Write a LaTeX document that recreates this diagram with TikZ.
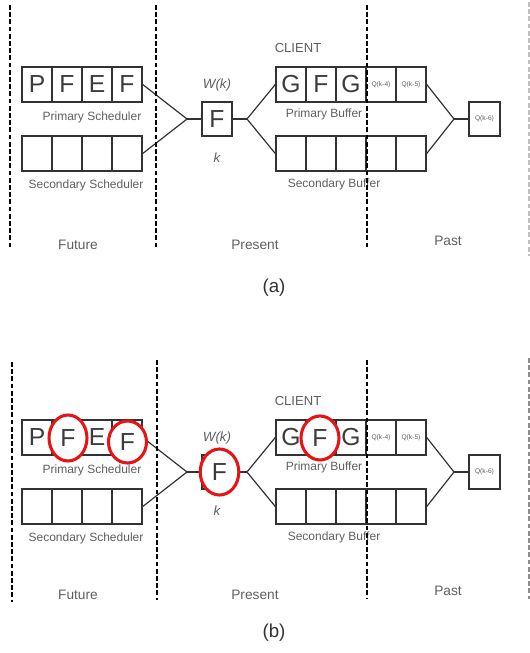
\documentclass[tikz,border=0pt]{standalone}
\usepackage{fontspec}
\setmainfont{Liberation Sans}
\usetikzlibrary{shapes.geometric}
\definecolor{linec}{RGB}{50,50,50}
\definecolor{labc}{RGB}{95,95,95}
\definecolor{bigc}{RGB}{60,60,60}
\definecolor{ringred}{RGB}{230,20,20}
\tikzset{
  cell/.style={draw=linec, line width=1.1pt, minimum width=22.5pt, minimum height=26pt, inner sep=0pt, text=bigc, font=\fontsize{18.5}{18.5}\selectfont},
  qcell/.style={cell, font=\fontsize{5}{5}\selectfont, text=labc},
  lab/.style={text=labc, inner sep=0pt, font=\fontsize{9}{10}\selectfont},
  zone/.style={text=labc, inner sep=0pt, font=\fontsize{10.3}{11}\selectfont},
  conn/.style={draw=linec, line width=0.9pt},
  sepline/.style={draw=black, line width=1.5pt, dash pattern=on 3.6pt off 1.8pt},
  faint/.style={draw=black!25, line width=0.8pt, dash pattern=on 3.6pt off 1.8pt},
  ring/.style={ellipse, draw=ringred, line width=2.3pt, fill=white, inner sep=0pt, text=bigc, font=\fontsize{18.5}{18.5}\selectfont},
  captxt/.style={inner sep=0pt, text=linec, font=\fontsize{14}{15}\selectfont}
}
\newcommand{\mypanel}[6]{%
\begin{scope}[shift={(0,#1)}, name prefix=#6-]
  % primary scheduler
  \node[cell] (ps1) at (37,84.5) {P};
  \node[cell] (ps2) at (67,84.5) {#2};
  \node[cell] (ps3) at (97,84.5) {E};
  \node[cell] (ps4) at (127,84.5) {#3};
  % secondary scheduler
  \node[cell] (ss1) at (37,153.5) {};
  \node[cell] (ss2) at (67,153.5) {};
  \node[cell] (ss3) at (97,153.5) {};
  \node[cell] (ss4) at (127,153.5) {};
  \node[lab] (psl) at (92,117) {Primary Scheduler};
  \node[lab] (ssl) at (86,185) {Secondary Scheduler};
  % current
  \node[cell, minimum height=25.5pt] (cur) at (217,119) {#4};
  \node[zone, font=\itshape\fontsize{10}{11}\selectfont] (wk) at (217,85) {W(k)};
  \node[zone, font=\itshape\fontsize{10}{11}\selectfont] (kk) at (217,158) {k};
  % buffers
  \node[zone, font=\fontsize{9.8}{11}\selectfont] (client) at (298,48) {CLIENT};
  \node[cell] (pb1) at (291,84.5) {G};
  \node[cell] (pb2) at (321,84.5) {#5};
  \node[cell] (pb3) at (351,84.5) {G};
  \node[qcell] (pb4) at (381,84.5) {Q(k-4)};
  \node[qcell] (pb5) at (411,84.5) {Q(k-5)};
  \node[cell] (sb1) at (291,153.5) {};
  \node[cell] (sb2) at (321,153.5) {};
  \node[cell] (sb3) at (351,153.5) {};
  \node[cell] (sb4) at (381,153.5) {};
  \node[cell] (sb5) at (411,153.5) {};
  \node[lab] (pbl) at (324,114) {Primary Buffer};
  \node[lab] (sbl) at (334,184) {Secondary Buffer};
  \node[qcell, minimum width=23pt, minimum height=25.5pt] (q6) at (484.5,119) {Q(k-6)};
  % merge points
  \coordinate (m1) at (187,119);
  \coordinate (m2) at (247,119);
  \coordinate (m3) at (454,119);
  \draw[conn] (ps4.east) -- (m1) -- (ss4.east);
  \draw[conn] (m1) -- (cur.west);
  \draw[conn] (cur.east) -- (m2);
  \draw[conn] (pb1.west) -- (m2) -- (sb1.west);
  \draw[conn] (pb5.east) -- (m3) -- (sb5.east);
  \draw[conn] (m3) -- (q6.west);
\end{scope}}
\begin{document}
\begin{tikzpicture}[x=0.75pt, y=-0.75pt]
\useasboundingbox (0,0) rectangle (530,653);
% ---------- panel (a)
\mypanel{0}{F}{F}{F}{F}{a}
\coordinate (a1t) at (10,5);   \coordinate (a1b) at (10,248);
\coordinate (a2t) at (156,5);  \coordinate (a2b) at (156,247);
\coordinate (a3t) at (367,5);  \coordinate (a3b) at (367,247);
\coordinate (a4t) at (529,2);  \coordinate (a4b) at (529,256);
\draw[sepline] (a1t) -- (a1b);
\draw[sepline] (a2t) -- (a2b);
\draw[sepline] (a3t) -- (a3b);
\draw[faint] (a4t) -- (a4b);
\node[zone] (afut) at (78,245) {Future};
\node[zone] (apre) at (255,245) {Present};
\node[zone] (apas) at (448,241) {Past};
\node[captxt] (acap) at (274,288) {(a)};
% ---------- panel (b)
\mypanel{353}{}{}{}{}{b}
\coordinate (b1t) at (12,362);  \coordinate (b1b) at (12,602);
\coordinate (b2t) at (157,360); \coordinate (b2b) at (157,600);
\coordinate (b3t) at (367,360); \coordinate (b3b) at (367,599);
\coordinate (b4t) at (529,358); \coordinate (b4b) at (529,599);
\draw[sepline] (b1t) -- (b1b);
\draw[sepline] (b2t) -- (b2b);
\draw[sepline] (b3t) -- (b3b);
\draw[faint, draw=black!45] (b4t) -- (b4b);
\node[zone] (bfut) at (78,595) {Future};
\node[zone] (bpre) at (255,595) {Present};
\node[zone] (bpas) at (448,591) {Past};
\node[captxt] (bcap) at (274,633) {(b)};
% red rings
\node[ring, minimum width=28.5pt, minimum height=34.5pt] (r1) at (68,438) {\raisebox{-3pt}{F}};
\node[ring, minimum width=28.5pt, minimum height=31.5pt] (r2) at (127.5,442) {F};
\node[ring, minimum width=29pt, minimum height=34.5pt] (r3) at (219.5,472) {F};
\node[ring, minimum width=28.5pt, minimum height=33pt] (r4) at (320,438) {\raisebox{-3pt}{F}};
\end{tikzpicture}
\end{document}
